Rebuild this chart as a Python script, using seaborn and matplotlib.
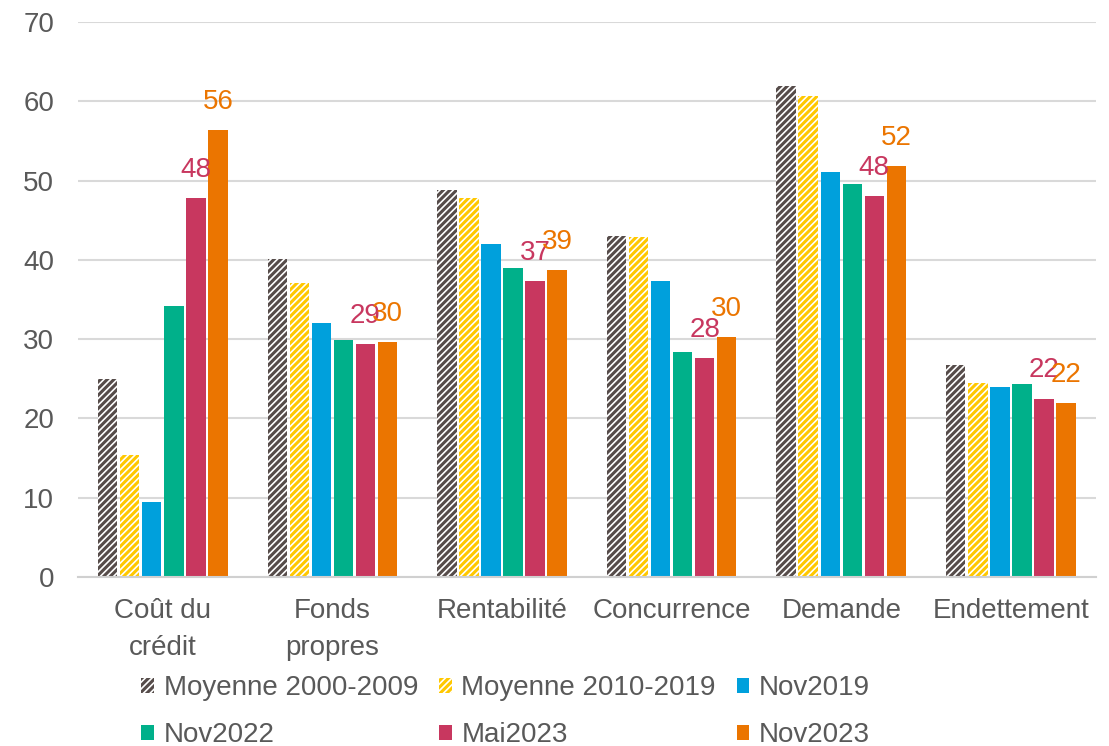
import pandas as pd
import seaborn as sns
import matplotlib.pyplot as plt

# Data
categories = ["Coût du\ncrédit", "Fonds\npropres", "Rentabilité", "Concurrence", "Demande", "Endettement"]
series = ["Moyenne 2000-2009", "Moyenne 2010-2019", "Nov2019", "Nov2022", "Mai2023", "Nov2023"]

moy_2000_2009 = [25.0, 40.1, 48.8, 43.0, 61.9, 26.7]
moy_2010_2019 = [15.4, 37.1, 47.8, 42.9, 60.7, 24.5]
nov2019 = [9.4, 32.0, 42.0, 37.3, 51.1, 24.0]
nov2022 = [34.2, 29.9, 39.0, 28.4, 49.6, 24.3]
mai2023 = [47.8, 29.4, 37.3, 27.6, 48.0, 22.5]
nov2023 = [56.4, 29.6, 38.7, 30.3, 51.8, 21.9]

colors = ["#564c4a", "#ffc800", "#00a0dc", "#00b08a", "#c8375f", "#eb7500"]

values = [moy_2000_2009, moy_2010_2019, nov2019, nov2022, mai2023, nov2023]
rows = []
for name, vals in zip(series, values):
    for cat, v in zip(categories, vals):
        rows.append({"cat": cat, "serie": name, "val": v})
df = pd.DataFrame(rows)

sns.set_style("white")
plt.rcParams["font.family"] = ["Liberation Sans", "DejaVu Sans"]
plt.rcParams["hatch.linewidth"] = 2.2

fig = plt.figure(figsize=(11.09, 7.46), dpi=100)
ax = fig.add_axes([0.0703, 0.2265, 0.9177, 0.744])

sns.barplot(data=df, x="cat", y="val", hue="serie", hue_order=series,
            palette=colors, saturation=1, gap=0.12, width=0.78, ax=ax, legend=False)

# hatched averages
for i, cont in enumerate(ax.containers):
    for bar in cont:
        bar.set_linewidth(0)
        if i < 2:
            bar.set_facecolor("white")
            bar.set_edgecolor(colors[i])
            bar.set_hatch("/////")
            if hasattr(bar, "set_hatch_linewidth"):
                bar.set_hatch_linewidth(2.2)

# labels on the two most recent surveys
for i in (4, 5):
    cont = ax.containers[i]
    ax.bar_label(cont, labels=[f"{v:.0f}" for v in values[i]], padding=11,
                 color=colors[i], fontsize=20)

ax.set_ylim(0, 70)
ax.set_yticks(range(0, 71, 10))
ax.yaxis.grid(True, color="#d9d9d9", linewidth=1.5)
ax.set_axisbelow(True)
ax.set_xlabel("")
ax.set_ylabel("")
for s in ["top", "right", "left"]:
    ax.spines[s].set_visible(False)
ax.spines["bottom"].set_color("#d0d0d0")
ax.spines["bottom"].set_linewidth(1.5)
ax.tick_params(axis="both", length=0, labelsize=20, labelcolor="#595959")
ax.tick_params(axis="x", pad=15)
ax.tick_params(axis="y", pad=17)
for t in ax.get_xticklabels():
    t.set_linespacing(1.55)

# legend, row-major order
handles = [ax.containers[i].patches[0] for i in range(6)]
order = [0, 3, 1, 4, 2, 5]
fig.legend([handles[i] for i in order], [series[i] for i in order],
           loc="center", bbox_to_anchor=(0.456, 0.046), ncol=3, frameon=False,
           fontsize=20, labelcolor="#595959", handlelength=0.45, handleheight=0.45,
           handletextpad=0.35, columnspacing=0.75, labelspacing=0.75)

fig.savefig("out.png", dpi=100)
